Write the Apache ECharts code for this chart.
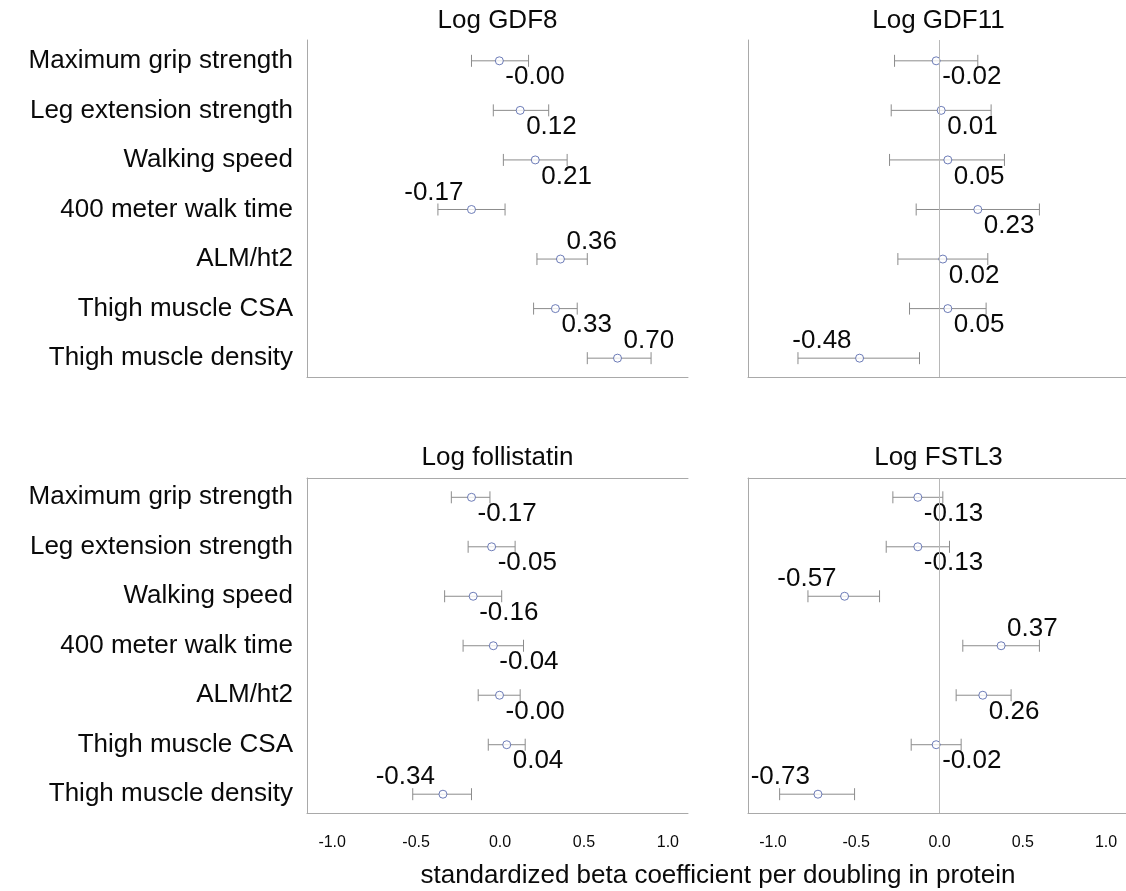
<!DOCTYPE html>
<html><head><meta charset="utf-8">
<script src="https://cdn.jsdelivr.net/npm/echarts@6/dist/echarts.min.js"></script>
<style>html,body{margin:0;padding:0;background:#fff}#c{width:1126px;height:891px}</style>
</head><body><div id="c"></div>
<script>
// ---------- data ----------
const categories = ['Maximum grip strength','Leg extension strength','Walking speed','400 meter walk time','ALM/ht2','Thigh muscle CSA','Thigh muscle density'];
const panelTitles = ['Log GDF8','Log GDF11','Log follistatin','Log FSTL3'];
const xTicks = [-1.0, -0.5, 0.0, 0.5, 1.0];
const xAxisTitle = 'standardized beta coefficient per doubling in protein';

const gdf8Beta  = [-0.004, 0.12, 0.21, -0.17, 0.36, 0.33, 0.70];
const gdf8Lower = [-0.17, -0.04, 0.02, -0.37, 0.22, 0.20, 0.52];
const gdf8Upper = [0.17, 0.29, 0.40, 0.03, 0.52, 0.46, 0.90];

const gdf11Beta  = [-0.02, 0.01, 0.05, 0.23, 0.02, 0.05, -0.48];
const gdf11Lower = [-0.27, -0.29, -0.30, -0.14, -0.25, -0.18, -0.85];
const gdf11Upper = [0.23, 0.31, 0.39, 0.60, 0.29, 0.28, -0.12];

const follBeta  = [-0.17, -0.05, -0.16, -0.04, -0.003, 0.04, -0.34];
const follLower = [-0.29, -0.19, -0.33, -0.22, -0.13, -0.07, -0.52];
const follUpper = [-0.06, 0.09, 0.01, 0.14, 0.12, 0.15, -0.17];

const fstl3Beta  = [-0.13, -0.13, -0.57, 0.37, 0.26, -0.02, -0.73];
const fstl3Lower = [-0.28, -0.32, -0.79, 0.14, 0.10, -0.17, -0.96];
const fstl3Upper = [0.02, 0.06, -0.36, 0.60, 0.43, 0.13, -0.51];

// ---------- layout / style ----------
// label placement per row: br = below-right, ar = above-right, al = above-left
const labelPlacement = [
  ['br','br','br','al','ar','br','ar'],
  ['br','br','br','br','br','br','al'],
  ['br','br','br','br','br','br','al'],
  ['br','br','al','ar','br','br','al']
];
const FONT = '"Liberation Sans", Arial, Helvetica, sans-serif';
const lineGray = '#a9a9a9';
const barGray = '#8c8c8c';
const markerBlue = '#4a5ca6';
const textColor = '#0a0a0a';
const grids = [
  {left:307, top:40,  width:381, height:337, yMin:-0.42, yMax:6.38},
  {left:748, top:40,  width:381, height:337, yMin:-0.42, yMax:6.38},
  {left:307, top:478, width:381, height:335, yMin:-0.39, yMax:6.38},
  {left:748, top:478, width:381, height:335, yMin:-0.39, yMax:6.38}
];
const zeroLine = [false, true, false, true];
const panels = [
  [gdf8Beta, gdf8Lower, gdf8Upper],
  [gdf11Beta, gdf11Lower, gdf11Upper],
  [follBeta, follLower, follUpper],
  [fstl3Beta, fstl3Lower, fstl3Upper]
];

const xAxes = [], yAxes = [], series = [], graphics = [];
grids.forEach((g, i) => {
  const bottomRow = i >= 2, leftCol = i % 2 === 0;
  xAxes.push({
    gridIndex: i, type: 'value', min: -1.15, max: 1.12,
    splitLine: {show: false}, axisTick: {show: false},
    axisLine: {show: true, onZero: false, lineStyle: {color: lineGray, width: 1}},
    axisLabel: bottomRow ? {show: true, customValues: xTicks, formatter: v => Number(v).toFixed(1),
      fontSize: 16, fontFamily: FONT, color: textColor, margin: 22} : {show: false}
  });
  yAxes.push({
    gridIndex: i, type: 'value', inverse: true, min: g.yMin, max: g.yMax,
    splitLine: {show: false}, axisTick: {show: false},
    axisLine: {show: true, onZero: false, lineStyle: {color: lineGray, width: 1}},
    axisLabel: leftCol ? {show: true, customValues: [0,1,2,3,4,5,6], formatter: v => categories[Math.round(v)],
      fontSize: 26, fontFamily: FONT, color: textColor, margin: 14} : {show: false}
  });
});
// top border lines for the lower panels
[2, 3].forEach(i => {
  xAxes.push({
    gridIndex: i, type: 'value', position: 'top', min: -1.15, max: 1.12,
    splitLine: {show: false}, axisTick: {show: false}, axisLabel: {show: false},
    axisLine: {show: true, onZero: false, lineStyle: {color: lineGray, width: 1}}
  });
});

panels.forEach((p, i) => {
  const [beta, lo, hi] = p;
  const data = beta.map((b, r) => [b, r, lo[r], hi[r]]);
  series.push({
    type: 'custom', xAxisIndex: i, yAxisIndex: i, z: 2,
    encode: {x: [0, 2, 3], y: 1},
    data: data,
    renderItem: (params, api) => {
      const r = api.value(1);
      const pt = api.coord([api.value(0), r]);
      const pl = api.coord([api.value(2), r]);
      const ph = api.coord([api.value(3), r]);
      const place = labelPlacement[i][params.dataIndex];
      const txt = api.value(0).toFixed(2);
      const right = place !== 'al';
      const above = place !== 'br';
      const ls = {stroke: barGray, lineWidth: 1};
      return {type: 'group', children: [
        {type: 'line', shape: {x1: pl[0], y1: pl[1], x2: ph[0], y2: ph[1]}, style: ls},
        {type: 'line', shape: {x1: pl[0], y1: pl[1]-6, x2: pl[0], y2: pl[1]+6}, style: ls},
        {type: 'line', shape: {x1: ph[0], y1: ph[1]-6, x2: ph[0], y2: ph[1]+6}, style: ls},
        {type: 'text', x: right ? pt[0] + 6 : pt[0] - 8, y: above ? pt[1] - 17 : pt[1] + 16.5,
          style: {text: txt, fill: textColor, font: '26px ' + FONT,
            align: right ? 'left' : 'right', verticalAlign: 'middle',
            textAlign: right ? 'left' : 'right', textVerticalAlign: 'middle'}}
      ]};
    }
  });
  const sc = {
    type: 'scatter', xAxisIndex: i, yAxisIndex: i, z: 3,
    symbol: 'circle', symbolSize: 8,
    itemStyle: {color: '#fff', borderColor: markerBlue, borderWidth: 1},
    data: beta.map((b, r) => [b, r]),
    silent: true
  };
  if (zeroLine[i]) {
    sc.markLine = {silent: true, symbol: 'none', label: {show: false},
      lineStyle: {color: '#b8b8b8', type: 'solid', width: 1}, data: [{xAxis: 0}]};
  }
  series.push(sc);
  const g = grids[i];
  graphics.push({type: 'text', x: g.left + g.width / 2, y: i < 2 ? 21 : 457.5,
    style: {text: panelTitles[i], fill: textColor, font: '26px ' + FONT,
      align: 'center', verticalAlign: 'middle', textAlign: 'center', textVerticalAlign: 'middle'}});
});
graphics.push({type: 'text', x: 718, y: 876,
  style: {text: xAxisTitle, fill: textColor, font: '26px ' + FONT,
    align: 'center', verticalAlign: 'middle', textAlign: 'center', textVerticalAlign: 'middle'}});

const chart = echarts.init(document.getElementById('c'), null, {renderer: 'canvas'});
chart.setOption({
  animation: false,
  backgroundColor: '#fff',
  grid: grids.map(g => ({left: g.left, top: g.top, width: g.width, height: g.height})),
  xAxis: xAxes, yAxis: yAxes, series: series, graphic: graphics
});
</script></body></html>
